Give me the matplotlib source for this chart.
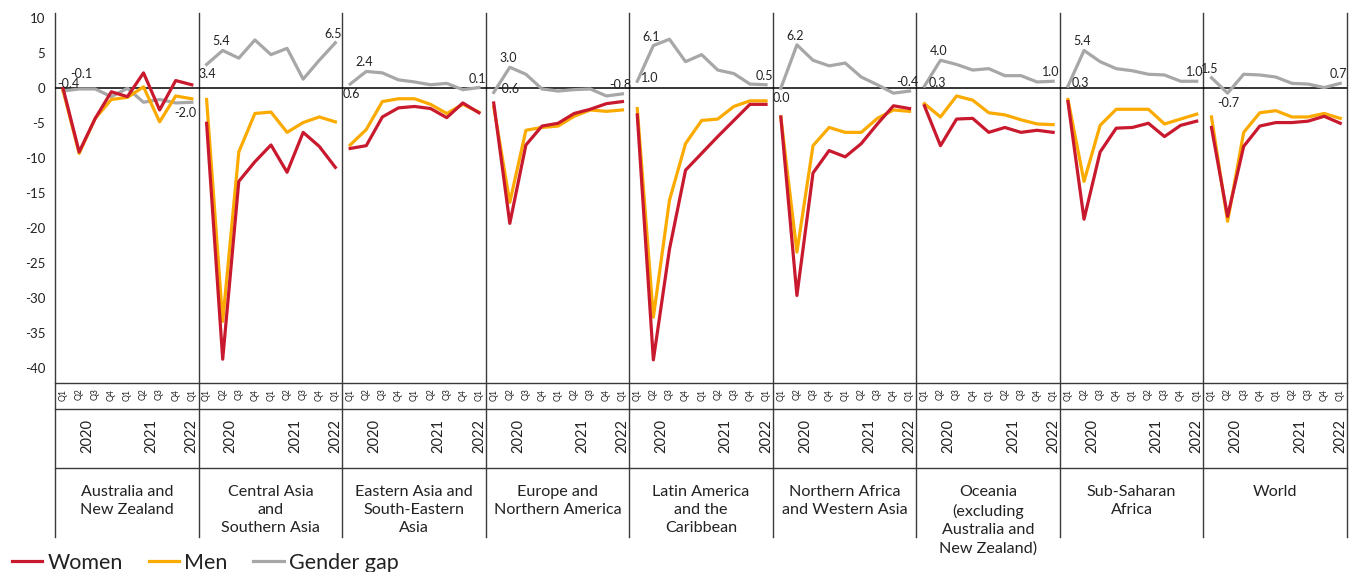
import matplotlib
matplotlib.use("Agg")
import matplotlib.pyplot as plt
from matplotlib.transforms import blended_transform_factory
from matplotlib.lines import Line2D

plt.rcParams['font.family'] = ['Lato', 'DejaVu Sans']
plt.rcParams['axes.unicode_minus'] = False

regions = ["Australia and\nNew Zealand", "Central Asia\nand\nSouthern Asia",
           "Eastern Asia and\nSouth-Eastern\nAsia", "Europe and\nNorthern America",
           "Latin America\nand the\nCaribbean", "Northern Africa\nand Western Asia",
           "Oceania\n(excluding\nAustralia and\nNew Zealand)", "Sub-Saharan\nAfrica", "World"]
quarters = ["Q1", "Q2", "Q3", "Q4", "Q1", "Q2", "Q3", "Q4", "Q1"]
years = ["2020", "2021", "2022"]
year_at = [1.5, 5.5, 8]

# percentage change in hours worked, by quarter
women = [
    [0.0, -9.1, -4.3, -0.5, -1.2, 2.2, -3.1, 1.1, 0.5],
    [-5.0, -38.7, -13.3, -10.5, -8.1, -12.0, -6.3, -8.3, -11.3],
    [-8.6, -8.2, -4.1, -2.8, -2.6, -2.9, -4.2, -2.1, -3.5],
    [-2.1, -19.3, -8.1, -5.4, -5.0, -3.6, -3.0, -2.2, -1.9],
    [-3.8, -38.8, -23.0, -11.7, -9.3, -6.9, -4.6, -2.3, -2.3],
    [-4.1, -29.6, -12.1, -8.9, -9.8, -7.9, -5.1, -2.5, -2.9],
    [-2.5, -8.2, -4.4, -4.3, -6.3, -5.6, -6.3, -6.0, -6.3],
    [-1.9, -18.7, -9.1, -5.7, -5.6, -5.0, -6.9, -5.3, -4.7],
    [-5.6, -18.3, -8.3, -5.4, -4.9, -4.9, -4.7, -4.0, -5.0],
]
men = [
    [-0.3, -9.3, -4.3, -1.6, -1.3, 0.2, -4.8, -1.1, -1.5],
    [-1.6, -33.3, -9.1, -3.6, -3.4, -6.3, -4.9, -4.1, -4.8],
    [-8.1, -5.9, -1.9, -1.5, -1.5, -2.3, -3.6, -2.3, -3.4],
    [-2.6, -16.3, -6.0, -5.6, -5.4, -4.0, -3.1, -3.3, -3.1],
    [-2.9, -32.7, -16.0, -7.9, -4.6, -4.4, -2.6, -1.8, -1.8],
    [-4.1, -23.4, -8.2, -5.6, -6.3, -6.3, -4.3, -3.1, -3.3],
    [-2.2, -4.1, -1.1, -1.7, -3.5, -3.8, -4.5, -5.1, -5.2],
    [-1.6, -13.3, -5.3, -3.0, -3.0, -3.0, -5.1, -4.4, -3.7],
    [-4.1, -19.0, -6.3, -3.5, -3.2, -4.1, -4.1, -3.6, -4.3],
]
gap = [
    [-0.4, -0.1, -0.1, -1.2, 0.0, -2.0, -1.6, -2.1, -2.0],
    [3.4, 5.4, 4.3, 6.9, 4.8, 5.7, 1.3, 4.0, 6.5],
    [0.6, 2.4, 2.2, 1.2, 0.9, 0.5, 0.7, -0.2, 0.1],
    [-0.6, 3.0, 2.0, -0.1, -0.4, -0.2, -0.1, -1.1, -0.8],
    [1.0, 6.1, 7.0, 3.8, 4.8, 2.6, 2.1, 0.6, 0.5],
    [0.0, 6.2, 4.0, 3.2, 3.6, 1.6, 0.5, -0.7, -0.4],
    [0.3, 4.0, 3.4, 2.6, 2.8, 1.8, 1.8, 0.9, 1.0],
    [0.3, 5.4, 3.8, 2.8, 2.5, 2.0, 1.9, 1.0, 1.0],
    [1.5, -0.7, 2.0, 1.9, 1.6, 0.7, 0.6, 0.1, 0.7],
]
# which gap points get a label, and where it sits
label_spots = [
    [(0, 'ar'), (1, 'aa'), (8, 'bl')],
    [(0, 'b'), (1, 'a'), (8, 'a')],
    [(0, 'b'), (1, 'a'), (8, 'a')],
    [(0, 'r'), (1, 'a'), (8, 'a')],
    [(0, 'r'), (1, 'a'), (8, 'a')],
    [(0, 'b'), (1, 'a'), (8, 'a')],
    [(0, 'r'), (1, 'a'), (8, 'a')],
    [(0, 'r'), (1, 'a'), (8, 'a')],
    [(0, 'a'), (1, 'b'), (8, 'a')],
]

RED = '#C8192E'
ORANGE = '#FBAA00'
GRAY = '#A7A7A7'
LINE = '#3a3a3a'
TXT = '#222222'

W, H = 1354, 572
fig = plt.figure(figsize=(W / 100, H / 100), dpi=100)

# overlay in pixel coords for the grid of the bottom table
frame = fig.add_axes([0, 0, 1, 1])
frame.set_xlim(0, W)
frame.set_ylim(H, 0)
frame.axis('off')

x0, x1 = 55, 1347
pw = (x1 - x0) / 9
top, bot = 13, 383

for k in range(10):
    xx = x0 + k * pw
    frame.plot([xx, xx], [top, 537], color=LINE, lw=1)
for yy in [bot, 409, 468]:
    frame.plot([x0, x1], [yy, yy], color=LINE, lw=1)

offs = {'a': ((-2, 9), 'center'),
        'aa': ((2, 15), 'center'),
        'ar': ((5, 7), 'center'),
        'b': ((1, -10), 'center'),
        'bl': ((-6, -11), 'center'),
        'r': ((4, 3), 'left')}

for i in range(9):
    ax = fig.add_axes([(x0 + i * pw) / W, (H - bot) / H, pw / W, (bot - top) / H])
    ax.patch.set_alpha(0)
    x = list(range(9))
    ax.axhline(0, color='black', lw=1.1, zorder=1)
    ax.plot(x, gap[i], color=GRAY, lw=2.3, zorder=2)
    ax.plot(x, men[i], color=ORANGE, lw=2.3, zorder=3)
    ax.plot(x, women[i], color=RED, lw=2.3, zorder=4)
    ax.set_xlim(-0.5, 8.42)
    ax.set_ylim(-42.1, 10.75)
    for s in ax.spines.values():
        s.set_visible(False)
    ax.set_xticks(x, quarters, rotation=90, fontsize=6.3, color=TXT)
    ax.tick_params(axis='x', length=0, pad=4)
    if i == 0:
        ax.set_yticks(range(-40, 11, 5))
        ax.tick_params(axis='y', length=0, pad=7, labelsize=9.5, labelcolor=TXT)
    else:
        ax.set_yticks([])
    for idx, where in label_spots[i]:
        d, ha = offs[where]
        ax.annotate(f"{gap[i][idx]:.1f}", (idx, gap[i][idx]), xytext=d,
                    textcoords='offset pixels', ha=ha, va='center',
                    fontsize=9, color=TXT, zorder=5)
    tr = blended_transform_factory(ax.transData, frame.transData)
    for yr, xp in zip(years, year_at):
        frame.text(xp, 419, yr, transform=tr, rotation=90, ha='center', va='top',
                   fontsize=10.5, color=TXT)
    frame.text(x0 + (i + 0.5) * pw, 485, regions[i], ha='center', va='top',
               fontsize=11.6, color=TXT, linespacing=1.38)

handles = [Line2D([], [], color=RED, lw=2.3),
           Line2D([], [], color=ORANGE, lw=2.3),
           Line2D([], [], color=GRAY, lw=2.3)]
fig.legend(handles, ["Women", "Men", "Gender gap"], loc='center left',
           bbox_to_anchor=(12 / W, 9 / H), ncol=3, frameon=False,
           fontsize=15.5, handlelength=1.4, handletextpad=0.25,
           columnspacing=1.2, borderpad=0, borderaxespad=0,
           labelcolor=TXT)

fig.savefig("out.png", dpi=100)
